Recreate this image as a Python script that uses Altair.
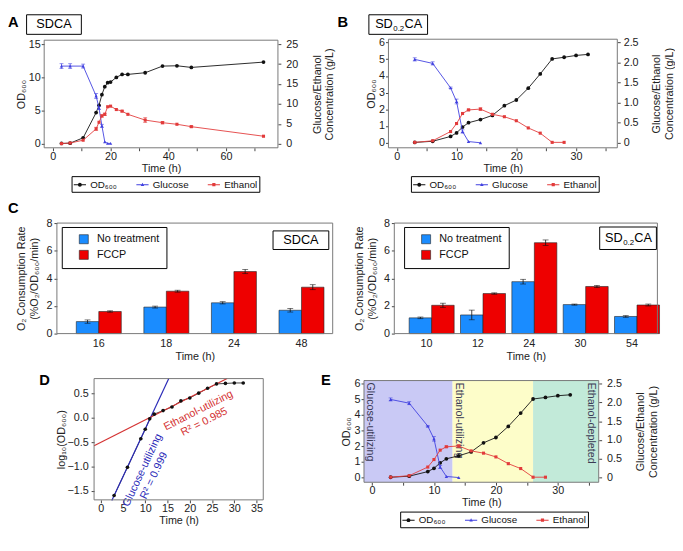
import altair as alt
import pandas as pd

FONT = "Liberation Sans"

# ---------------- values ----------------
SERIES = ["OD₆₀₀", "Glucose", "Ethanol"]
TREATMENTS = ["No treatment", "FCCP"]
PANEL_LETTERS = ["A", "B", "C", "D", "E"]
MEDIUM_A = "SDCA"
MEDIUM_B = ["SD", "0.2", "CA"]
TIME_TITLE = "Time (h)"
OD_TITLE = "OD₆₀₀"
CONC_TITLE = ["Glucose/Ethanol", "Concentration (g/L)"]
O2_TITLE = ["O₂ Consumption Rate", "(%O₂/OD₆₀₀/min)"]
LOG_TITLE = "log₁₀(OD₆₀₀)"

# Panel A (SDCA)
A_TIME = [3, 6, 10.5, 15, 16, 17, 18, 19, 20, 22, 24, 26, 32, 38, 43, 48, 73]
A_OD = [0.05, 0.1, 0.9, 4.7, 5.8, 7.4, 8.6, 9.2, 9.3, 10.0, 10.45, 10.45, 10.7, 11.7, 11.75, 11.5, 12.3]
A_GLC_TIME = [3, 6, 10.5, 15, 16, 17, 18, 19, 20]
A_GLC = [19.5, 19.5, 19.5, 12.0, 9.0, 4.5, 0.5, 0.1, 0.1]
A_GLC_ERR = [0.6, 0.6, 0.5, 0.6, 0.4, 0.4, 0, 0, 0]
A_ETH = [0.05, 0.2, 0.9, 3.75, 5.4, 7.0, 7.4, 9.3, 9.45, 8.6, 8.2, 7.4, 5.95, 5.3, 4.9, 4.3, 1.9]
A_ETH_ERR = [0, 0, 0, 0.4, 0, 0.3, 0.3, 0, 0, 0, 0.2, 0, 0.6, 0.3, 0, 0.2, 0]

# Panel B / E (SD0.2CA)
B_TIME = [3, 6, 9, 10, 11, 12, 14, 16, 18, 20, 22, 24, 26, 28, 30, 32]
B_OD = [0.02, 0.09, 0.38, 0.59, 0.94, 1.2, 1.39, 1.64, 2.22, 2.56, 3.27, 4.12, 5.02, 5.12, 5.23, 5.29]
B_GLC_TIME = [3, 6, 9, 10, 11, 12, 14]
B_GLC = [2.08, 1.98, 1.37, 1.03, 0.28, 0.03, 0.0]
B_GLC_ERR = [0.04, 0.04, 0.02, 0.06, 0.04, 0, 0]
B_ETH_TIME = [3, 6, 9, 10, 11, 12, 14, 16, 18, 20, 22, 24, 26, 28]
B_ETH = [0.01, 0.05, 0.28, 0.48, 0.73, 0.82, 0.84, 0.71, 0.65, 0.55, 0.37, 0.24, 0.01, 0.01]
B_ETH_ERR = [0, 0, 0, 0, 0, 0.02, 0.03, 0, 0, 0, 0, 0, 0, 0]

# Panel C
CL_TIME = ["16", "18", "24", "48"]
CL_NT = [0.87, 1.92, 2.23, 1.69]
CL_NT_ERR = [0.12, 0.07, 0.08, 0.13]
CL_FCCP = [1.6, 3.07, 4.49, 3.36]
CL_FCCP_ERR = [0.05, 0.07, 0.15, 0.18]

CR_TIME = ["10", "12", "24", "30", "54"]
CR_NT = [1.14, 1.35, 3.76, 2.1, 1.24]
CR_NT_ERR = [0.06, 0.35, 0.17, 0.04, 0.06]
CR_FCCP = [2.05, 2.9, 6.58, 3.41, 2.07]
CR_FCCP_ERR = [0.15, 0.05, 0.2, 0.08, 0.07]

# Panel D
D_TIME = [3, 6, 9, 10, 11, 12, 14, 16, 18, 20, 22, 24, 26, 28, 30, 32]
D_LOG = [-1.6, -1.02, -0.43, -0.235, -0.02, 0.077, 0.15, 0.225, 0.35, 0.41, 0.51, 0.61, 0.70, 0.71, 0.72, 0.72]
D_GLC_FIT = [3, 6, 9, 10, 11]
D_ETH_FIT = [11, 12, 14, 16, 18, 20, 22, 24, 26]
D_GLC_LABEL = ["Glucose-utilizing", "R² = 0.999"]
D_ETH_LABEL = ["Ethanol-utilizing", "R² = 0.985"]

# Panel E phases
E_PHASE_NAME = ["Glucose-utilizing", "Ethanol-utilizing", "Ethanol-depleted"]
E_PHASE_START = [-1.3, 13, 26]
E_PHASE_END = [13, 26, 36.6]

# ---------------- styles ----------------
INK = "#111111"
FRAME = "#777777"
LBLUE = "#4040e0"
LRED = "#e23b3b"
BAR_BLUE = "#1a8cff"
BAR_RED = "#ee0000"
FIT_BLUE = "#2a2ab8"
FIT_RED = "#d43232"
PHASE_COLORS = ["#c9c9f5", "#fdfdc9", "#c2ead9"]
PHASE_TEXT = "#3b3b55"

SYM_LINE = "M-1,-0.08L1,-0.08L1,0.08L-1,0.08Z"
PATHS = [
    SYM_LINE + "M0.32,0A0.32,0.32 0 1,1 -0.32,0A0.32,0.32 0 1,1 0.32,0Z",
    SYM_LINE + "M0,-0.3L0.28,0.2L-0.28,0.2Z",
    SYM_LINE + "M-0.26,-0.26L0.26,-0.26L0.26,0.26L-0.26,0.26Z",
]

ONE = pd.DataFrame({"k": [0]})


def txt(s, x, y, size=13, weight="normal", align="left", baseline="top", color="#000"):
    return alt.Chart(pd.DataFrame({"s": [s]})).mark_text(
        fontSize=size, fontWeight=weight, align=align, baseline=baseline, color=color
    ).encode(text="s:N", x=alt.value(x), y=alt.value(y))


def box(x0, x1, y0, y1):
    return alt.Chart(ONE).mark_rect(fill="white", stroke="#000", strokeWidth=1).encode(
        x=alt.value(x0), x2=alt.value(x1), y=alt.value(y0), y2=alt.value(y1))


def frame(p):
    return alt.Chart(ONE).mark_rect(fillOpacity=0, stroke=FRAME, strokeWidth=1).encode(
        x=alt.value(p[0]), x2=alt.value(p[1]), y=alt.value(p[2]), y2=alt.value(p[3]))


def medium_sd(cx, cy):
    x0 = cx - 23.6
    return [txt(MEDIUM_B[0], x0, cy, baseline="middle"),
            txt(MEDIUM_B[1], x0 + 18.6, cy + 4.5, size=8, baseline="middle"),
            txt(MEDIUM_B[2], x0 + 30.0, cy, baseline="middle")]


def legend_layer(lx, ly):
    L = alt.Legend(orient="none", legendX=lx, legendY=ly, direction="horizontal", columns=3, title=None,
                   strokeColor="#000", fillColor="white", padding=2, labelFontSize=10, labelColor="#111",
                   symbolSize=156, symbolStrokeWidth=0, labelOffset=4, columnPadding=19)
    return alt.Chart(pd.DataFrame({"series": SERIES})).transform_filter("false").mark_point(
        filled=True, opacity=1).encode(
        color=alt.Color("series:N", scale=alt.Scale(domain=SERIES, range=[INK, LBLUE, LRED]), legend=L),
        shape=alt.Shape("series:N", scale=alt.Scale(domain=SERIES, range=PATHS), legend=L))


def timecourse(od_t, od, glc_t, glc, glc_err, eth_t, eth, eth_err, CW, CH, P, xdom, xvals, xstep,
               ydom, yvals, rdom, rvals, rfmt, leg_xy, y_tpad, r_lpad, r_tpad, pre=(), post=()):
    x0, x1, y0, y1 = P
    xs = alt.Scale(domain=xdom, range=[x0, x1], nice=False, zero=False)
    x_ax = alt.Axis(values=xvals, labelExpr=f"datum.value % {xstep} == 0 ? datum.label : ''",
                    title=TIME_TITLE, labelPadding=0, titlePadding=1, offset=-(CH - y1))

    def X(f="t:Q"):
        return alt.X(f, scale=xs, axis=x_ax)

    ys = alt.Scale(domain=ydom, range=[y1, y0], nice=False, zero=False)
    rs = alt.Scale(domain=rdom, range=[y1, y0], nice=False, zero=False)
    y_ax = alt.Axis(orient="left", values=yvals, title=OD_TITLE, labelPadding=1, titlePadding=y_tpad,
                    offset=-x0)
    r_kw = dict(orient="right", values=rvals, title=CONC_TITLE, titleAngle=270,
                titleBaseline="top", labelPadding=r_lpad, titlePadding=r_tpad, offset=-(CW - x1))
    if rfmt:
        r_kw["labelExpr"] = rfmt
    r_ax = alt.Axis(**r_kw)

    def Y(f="v:Q"):
        return alt.Y(f, scale=ys, axis=y_ax)

    def R(f="v:Q"):
        return alt.Y(f, scale=rs, axis=r_ax)

    od_df = pd.DataFrame({"t": od_t, "v": od})
    od_grp = alt.layer(
        alt.Chart(od_df).mark_line(color=INK, strokeWidth=0.9).encode(x=X(), y=Y()),
        alt.Chart(od_df).mark_point(filled=True, shape="circle", size=15, color=INK, opacity=1).encode(
            x=X(), y=Y()),
    )

    def conc(t, v, e, color, shape, size):
        df = pd.DataFrame({"t": t, "v": v, "e": e})
        eb = alt.Chart(df).transform_filter("datum.e > 0").transform_calculate(
            lo="datum.v - datum.e", hi="datum.v + datum.e")
        return [
            alt.Chart(df).mark_line(color=color, strokeWidth=0.9).encode(x=X(), y=R()),
            alt.Chart(df).mark_point(filled=True, shape=shape, size=size, color=color, opacity=1).encode(
                x=X(), y=R()),
            eb.mark_rule(color=color, strokeWidth=0.8).encode(x=X(), y=R("lo:Q"), y2="hi:Q"),
            eb.mark_tick(orient="horizontal", size=4, thickness=0.8, color=color).encode(x=X(), y=R("lo:Q")),
            eb.mark_tick(orient="horizontal", size=4, thickness=0.8, color=color).encode(x=X(), y=R("hi:Q")),
        ]

    conc_grp = alt.layer(*conc(glc_t, glc, glc_err, LBLUE, "triangle-up", 12),
                         *conc(eth_t, eth, eth_err, LRED, "square", 10))
    layers = [p(X) if callable(p) else p for p in pre]
    return alt.layer(*layers, od_grp, conc_grp, frame(P), legend_layer(*leg_xy), *post).resolve_scale(
        y="independent").properties(width=CW, height=CH)


def bar_panel(times, nt, nt_err, fc, fc_err, CW, CH, P, pin, pout, palign, leg_xy, y_tpad, post):
    x0, x1, y0, y1 = P
    n = len(times)
    df = pd.DataFrame({"time": times + times,
                       "treat": [TREATMENTS[0]] * n + [TREATMENTS[1]] * n,
                       "v": nt + fc, "e": nt_err + fc_err})
    xs = alt.Scale(domain=times, range=[x0, x1], paddingInner=pin, paddingOuter=pout, align=palign)
    x_ax = alt.Axis(title=TIME_TITLE, labelAngle=0, ticks=False, labelPadding=4, titlePadding=2,
                    offset=-(CH - y1))
    X = alt.X("time:N", sort=times, scale=xs, axis=x_ax)
    XO = alt.XOffset("treat:N", sort=TREATMENTS, scale=alt.Scale(domain=TREATMENTS))
    ys = alt.Scale(domain=[0, 8], range=[y1, y0], nice=False)
    y_ax = alt.Axis(values=[0, 2, 4, 6, 8], title=O2_TITLE, labelPadding=2, titlePadding=y_tpad, offset=-x0)

    def Y(f):
        return alt.Y(f, scale=ys, axis=y_ax)

    leg = alt.Legend(orient="none", legendX=leg_xy[0], legendY=leg_xy[1], title=None, strokeColor="#000",
                     fillColor="white", padding=7, labelFontSize=11, labelColor="#111", symbolType="square",
                     symbolSize=85, symbolStrokeColor="#222", symbolStrokeWidth=0.6, symbolOffset=10,
                     labelOffset=8, rowPadding=3)
    bars = alt.Chart(df).mark_bar(stroke="#222", strokeWidth=0.6).encode(
        x=X, xOffset=XO, y=Y("v:Q"),
        color=alt.Color("treat:N", sort=TREATMENTS,
                        scale=alt.Scale(domain=TREATMENTS, range=[BAR_BLUE, BAR_RED]), legend=leg))
    eb = alt.Chart(df).transform_calculate(lo="datum.v - datum.e", hi="datum.v + datum.e")
    rule = eb.mark_rule(color=INK, strokeWidth=0.8).encode(x=X, xOffset=XO, y=Y("lo:Q"), y2="hi:Q")
    cap_lo = eb.mark_tick(orient="horizontal", size=6, thickness=0.8, color=INK).encode(
        x=X, xOffset=XO, y=Y("lo:Q"))
    cap_hi = eb.mark_tick(orient="horizontal", size=6, thickness=0.8, color=INK).encode(
        x=X, xOffset=XO, y=Y("hi:Q"))
    return alt.layer(bars, rule, cap_lo, cap_hi, frame(P), *post).properties(width=CW, height=CH)


# ---------------- panels (cell-relative pixel geometry) ----------------
RFMT = "datum.value == 0 ? '0' : format(datum.value, '.1f')"
ROW_H = [186, 174, 166]
COL_W = [337, 329]

panel_a = timecourse(
    A_TIME, A_OD, A_GLC_TIME, A_GLC, A_GLC_ERR, A_TIME, A_ETH, A_ETH_ERR,
    CW=COL_W[0], CH=ROW_H[0], P=(37, 276, 26, 136), xdom=[-3, 78], xvals=list(range(0, 80, 10)), xstep=20,
    ydom=[-0.6, 15.6], yvals=[0, 5, 10, 15], rdom=[-1, 26], rvals=[0, 5, 10, 15, 20, 25], rfmt=None,
    leg_xy=(65, 165), y_tpad=2, r_lpad=5, r_tpad=1,
    post=[txt(PANEL_LETTERS[0], 0, 0, size=15, weight="bold"),
          box(19, 75, 0, 20), txt(MEDIUM_A, 47, 10, align="center", baseline="middle")])

panel_b = timecourse(
    B_TIME, B_OD, B_GLC_TIME, B_GLC, B_GLC_ERR, B_ETH_TIME, B_ETH, B_ETH_ERR,
    CW=COL_W[1], CH=ROW_H[0], P=(52, 286, 25, 136), xdom=[-1.4, 36.9], xvals=list(range(0, 40, 5)), xstep=10,
    ydom=[-0.3, 6.2], yvals=[0, 1, 2, 3, 4, 5, 6], rdom=[-0.125, 2.583],
    rvals=[0, 0.5, 1.0, 1.5, 2.0, 2.5], rfmt=RFMT,
    leg_xy=(75, 165), y_tpad=2, r_lpad=3, r_tpad=0,
    post=[txt(PANEL_LETTERS[1], 0, 0, size=15, weight="bold"),
          box(32, 92, 0, 20), *medium_sd(62, 10)])

panel_cl = bar_panel(CL_TIME, CL_NT, CL_NT_ERR, CL_FCCP, CL_FCCP_ERR, CW=COL_W[0], CH=ROW_H[1],
                     P=(50, 332, 27, 140), pin=0.334, pout=0.208, palign=0.69, leg_xy=(55, 31), y_tpad=7,
                     post=[txt(PANEL_LETTERS[2], 0, 5, size=15, weight="bold"),
                           box(271, 328, 35, 54), txt(MEDIUM_A, 299.5, 44.5, align="center", baseline="middle")])

panel_cr = bar_panel(CR_TIME, CR_NT, CR_NT_ERR, CR_FCCP, CR_FCCP_ERR, CW=COL_W[1], CH=ROW_H[1],
                     P=(58, 327, 27, 140), pin=0.3235, pout=0.224, palign=0.646, leg_xy=(68, 31), y_tpad=6,
                     post=[box(268, 326, 31, 54), *medium_sd(297, 42.5)])

# Panel D
PD = (88, 261, 12, 136)
xsD = alt.Scale(domain=[-1.5, 36.5], range=[PD[0], PD[1]], nice=False, zero=False)
ysD = alt.Scale(domain=[-1.69, 0.81], range=[PD[3], PD[2]], nice=False, zero=False)
xD_ax = alt.Axis(values=list(range(0, 40, 5)), title=TIME_TITLE, labelPadding=0, titlePadding=1,
                 offset=-(ROW_H[2] - PD[3]))
yD_ax = alt.Axis(values=[-1.5, -1.0, -0.5, 0.0, 0.5], format=".1f", title=LOG_TITLE,
                 labelPadding=3, titlePadding=1, offset=-PD[0])
XD = alt.X("t:Q", scale=xsD, axis=xD_ax)
YD = alt.Y("y:Q", scale=ysD, axis=yD_ax)
d_df = pd.DataFrame({"t": D_TIME, "y": D_LOG})
d_line = alt.Chart(d_df).mark_line(color=INK, strokeWidth=0.8).encode(x=XD, y=YD)
fit_g = alt.Chart(d_df).transform_filter(alt.FieldOneOfPredicate(field="t", oneOf=D_GLC_FIT)).transform_regression(
    "t", "y", extent=[2.49, 15.28]).mark_line(color=FIT_BLUE, strokeWidth=1.2).encode(x=XD, y=YD)
fit_e = alt.Chart(d_df).transform_filter(alt.FieldOneOfPredicate(field="t", oneOf=D_ETH_FIT)).transform_regression(
    "t", "y", extent=[-1.5, 28.38]).mark_line(color=FIT_RED, strokeWidth=1.2).encode(x=XD, y=YD)
d_pts = alt.Chart(d_df).mark_point(filled=True, shape="circle", size=14, color=INK, opacity=1).encode(x=XD, y=YD)
ann_g = alt.Chart(pd.DataFrame({"t": [9.4], "y": [-1.08], "s": ["\n".join(D_GLC_LABEL)]})).mark_text(
    lineBreak="\n", angle=295, color=FIT_BLUE, fontSize=11, align="center", baseline="middle").encode(
    text="s:N", x=XD, y=YD)
ann_e = alt.Chart(pd.DataFrame({"t": [21.96], "y": [0.148], "s": ["\n".join(D_ETH_LABEL)]})).mark_text(
    lineBreak="\n", angle=333, color=FIT_RED, fontSize=11, align="center", baseline="middle").encode(
    text="s:N", x=XD, y=YD)
panel_d = alt.layer(d_line, fit_g, fit_e, d_pts, ann_g, ann_e, frame(PD),
                    txt(PANEL_LETTERS[3], 32, 7, size=15, weight="bold"),
                    txt(PANEL_LETTERS[4], 320, 7, size=15, weight="bold")).properties(
    width=COL_W[0], height=ROW_H[2])

# Panel E
PE = (27, 267, 14, 118)


def shading(X):
    ph = pd.DataFrame({"x0": E_PHASE_START, "x1": E_PHASE_END, "phase": E_PHASE_NAME})
    return alt.Chart(ph).mark_rect().encode(
        x=X("x0:Q"), x2="x1:Q", y=alt.value(PE[2]), y2=alt.value(PE[3]),
        fill=alt.Fill("phase:N", scale=alt.Scale(domain=E_PHASE_NAME, range=PHASE_COLORS), legend=None))


def phase_texts(X):
    pos = pd.DataFrame({"t": [-1.1, 13.3, 34.6], "s": E_PHASE_NAME})
    return alt.Chart(pos).mark_text(
        angle=90, align="left", baseline="bottom", fontSize=11, color=PHASE_TEXT).encode(
        text="s:N", x=X("t:Q"), y=alt.value(PE[2] + 2))


panel_e = timecourse(
    B_TIME, B_OD, B_GLC_TIME, B_GLC, B_GLC_ERR, B_ETH_TIME, B_ETH, B_ETH_ERR,
    CW=COL_W[1], CH=ROW_H[2], P=PE, xdom=[-1.3, 36.6], xvals=list(range(0, 40, 5)), xstep=10,
    ydom=[-0.3, 6.2], yvals=[0, 1, 2, 3, 4, 5, 6], rdom=[-0.125, 2.583],
    rvals=[0, 0.5, 1.0, 1.5, 2.0, 2.5], rfmt=RFMT,
    leg_xy=(64, 148), y_tpad=3, r_lpad=5, r_tpad=1,
    pre=[shading, phase_texts])

chart = alt.concat(panel_a, panel_b, panel_cl, panel_cr, panel_d, panel_e,
                   columns=2, spacing=0, align="each", bounds="flush").resolve_scale(
    color="independent", shape="independent", fill="independent").resolve_legend(
    color="independent", shape="independent").properties(padding=0).configure(
    font=FONT).configure_axis(
    labelFont=FONT, titleFont=FONT, labelFontSize=11, titleFontSize=11, titleFontWeight="normal",
    labelColor="#222", titleColor="#222", tickColor="#444", tickSize=3, domain=False, grid=False).configure_view(
    stroke="transparent", strokeWidth=0)

chart.save("out.html", embed_options={"renderer": "svg", "actions": False})
